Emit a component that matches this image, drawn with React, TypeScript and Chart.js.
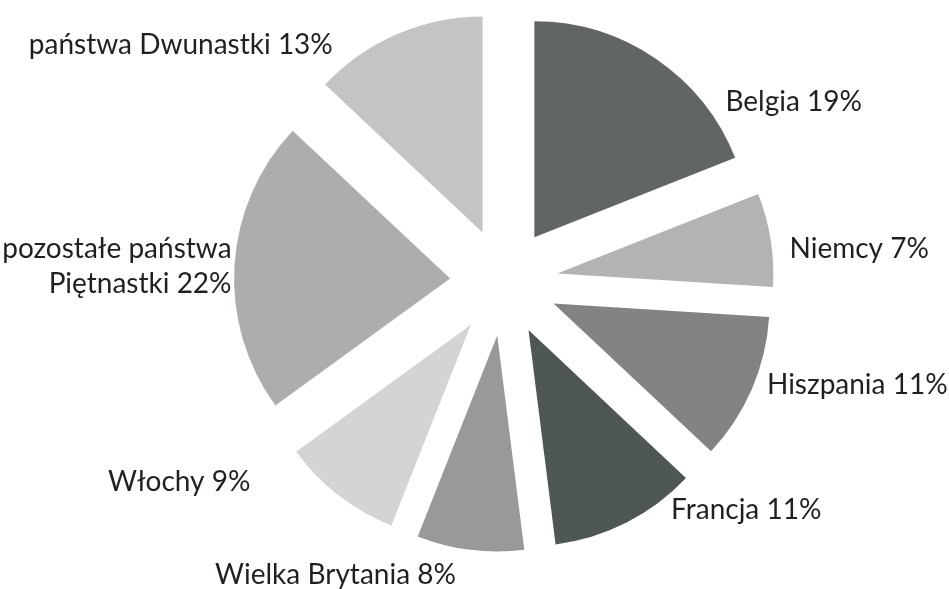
import React, { useEffect, useRef } from "react";
import { Chart, registerables } from "chart.js";

Chart.register(...registerables);

const categories = [
  "Belgia",
  "Niemcy",
  "Hiszpania",
  "Francja",
  "Wielka Brytania",
  "Włochy",
  "pozostałe państwa\nPiętnastki",
  "państwa Dwunastki",
];
const shares = [19, 7, 11, 11, 8, 9, 22, 13];
const sliceColors = [
  "#626565",
  "#b3b3b3",
  "#838383",
  "#4f5756",
  "#999999",
  "#d4d4d4",
  "#acadaf",
  "#c3c4c6",
];
// label nudges relative to the radial anchor of each slice (dx, dy)
const labelNudgeX = [64, 9, 6, 40, -13, -82, 7, -60];
const labelNudgeY = [61, 20, 1, -12, 24, -12, -6, 29];

const SLICE_SHIFT = 54; // pixels each slice is pushed out along its mid angle
const RADIUS = 216;
const FONT = "28px Lato, 'Open Sans', sans-serif";

// Push every wedge outward rigidly (Chart.js' own offset also reshapes the arc)
const explodePlugin = {
  id: "explode",
  beforeDatasetsDraw(chart: any) {
    const meta = chart.getDatasetMeta(0);
    meta.data.forEach((arc: any) => {
      if (arc.__exploded) return;
      const orig = arc.draw.bind(arc);
      arc.draw = (ctx: CanvasRenderingContext2D) => {
        const half = (arc.startAngle + arc.endAngle) / 2;
        ctx.save();
        ctx.translate(Math.cos(half) * SLICE_SHIFT, Math.sin(half) * SLICE_SHIFT);
        orig(ctx);
        ctx.restore();
      };
      arc.__exploded = true;
    });
  },
};

const labelPlugin = {
  id: "sliceLabels",
  afterDatasetsDraw(chart: any) {
    const ctx = chart.ctx;
    const meta = chart.getDatasetMeta(0);
    ctx.save();
    ctx.font = FONT;
    ctx.fillStyle = "#231f20";
    ctx.textBaseline = "alphabetic";
    meta.data.forEach((arc: any, i: number) => {
      const p = arc.getProps(["x", "y", "startAngle", "endAngle", "outerRadius"], true);
      const mid = (p.startAngle + p.endAngle) / 2;
      const r = SLICE_SHIFT + p.outerRadius + 10;
      const ax = p.x + Math.cos(mid) * r + labelNudgeX[i];
      const ay = p.y + Math.sin(mid) * r + labelNudgeY[i];
      ctx.textAlign = Math.cos(mid) >= 0 ? "left" : "right";
      const text = `${categories[i]} ${shares[i]}%`;
      text.split("\n").forEach((line, j) => {
        ctx.fillText(line, ax, ay + j * 35);
      });
    });
    ctx.restore();
  },
};

export default function App() {
  const ref = useRef<HTMLCanvasElement | null>(null);
  useEffect(() => {
    if (!ref.current) return;
    const chart = new Chart(ref.current, {
      type: "pie",
      data: {
        labels: categories,
        datasets: [
          {
            data: shares,
            backgroundColor: sliceColors,
            borderWidth: 0,
            offset: 0,
            hoverOffset: 0,
          },
        ],
      },
      options: {
        responsive: false,
        animation: false,
        radius: RADIUS,
        layout: { padding: { left: 59, right: 0, top: 0, bottom: 25 } },
        plugins: {
          legend: { display: false },
          tooltip: { enabled: false },
        },
        events: [],
      } as any,
      plugins: [explodePlugin, labelPlugin],
    });
    return () => chart.destroy();
  }, []);
  return (
    <div style={{ position: "absolute", left: 0, top: 0, width: 949, height: 589, background: "#fff" }}>
      <canvas ref={ref} width={949} height={589} style={{ display: "block" }} />
    </div>
  );
}
